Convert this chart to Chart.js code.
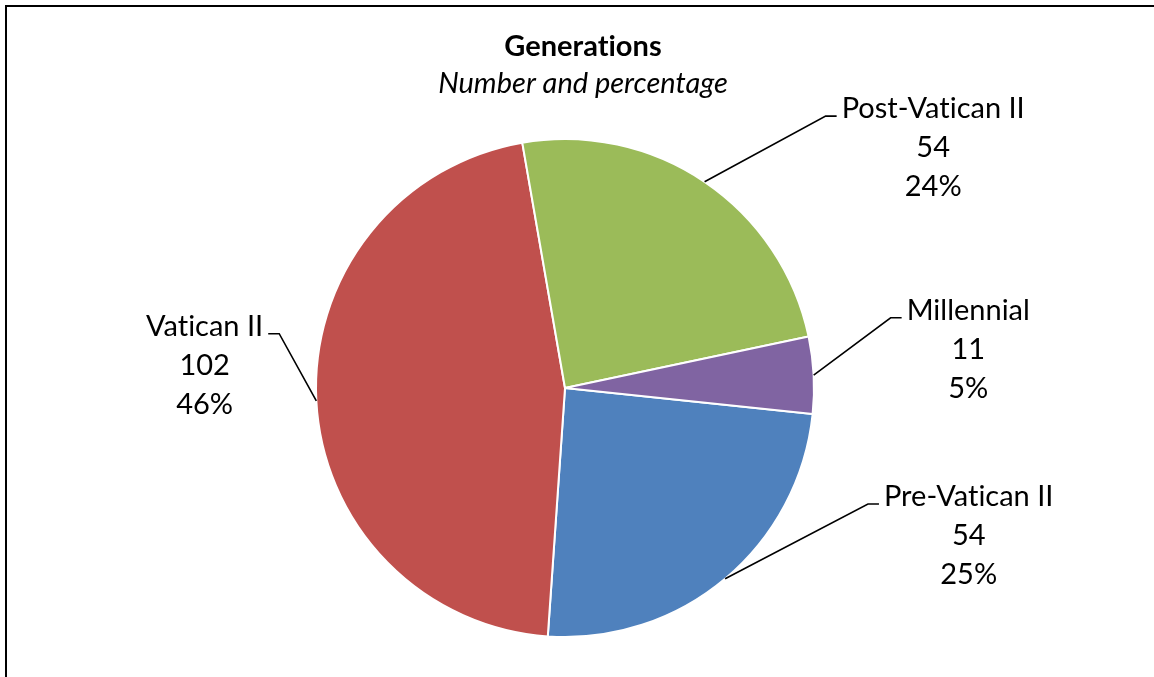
<!DOCTYPE html>
<html><head><meta charset="utf-8">
<script src="https://cdn.jsdelivr.net/npm/chart.js@4/dist/chart.umd.min.js"></script>
<style>
html,body{margin:0;padding:0;background:#fff;}
#wrap{position:relative;width:1154px;height:677px;overflow:hidden;}
#frame{position:absolute;left:5px;top:5px;width:1200px;height:720px;border-left:2px solid #000;border-top:2px solid #000;}
canvas{position:absolute;left:0;top:0;}
</style></head><body>
<div id="wrap"><div id="frame"></div><canvas id="c" width="1154" height="677"></canvas></div>
<script>
// ---- data ----
const categories = ['Pre-Vatican II', 'Vatican II', 'Post-Vatican II', 'Millennial'];
const counts = [54, 102, 54, 11];
const percentLabels = ['25%', '46%', '24%', '5%'];
const titleText = 'Generations';
const subtitleText = 'Number and percentage';

// ---- styles ----
const sliceColors = ['#4F81BD', '#C0504D', '#9BBB59', '#8064A2'];
const FONT = 'Lato, "Open Sans", sans-serif';
// label anchor (first-line baseline at the text edge facing the pie), in radii from the pie centre
const labelPlacement = [
  {dx: 1.281, dy: 0.474, side: 'left'},
  {dx: -1.212, dy: -0.210, side: 'right'},
  {dx: 1.111, dy: -1.084, side: 'left'},
  {dx: 1.372, dy: -0.274, side: 'left'}
];

const labelPlugin = {
  id: 'excelLabels',
  afterDatasetsDraw(chart) {
    const ctx = chart.ctx;
    const meta = chart.getDatasetMeta(0);
    ctx.save();
    try { ctx.textRendering = 'optimizeSpeed'; } catch (e) {}
    // titles
    ctx.fillStyle = '#000';
    ctx.textAlign = 'center';
    ctx.textBaseline = 'middle';
    ctx.font = 'bold 29px ' + FONT;
    ctx.fillText(titleText, chart.width / 2 + 6, 47);
    ctx.font = 'italic 29px ' + FONT;
    ctx.fillText(subtitleText, chart.width / 2 + 6, 84);

    ctx.font = '29px ' + FONT;
    ctx.textBaseline = 'alphabetic';
    ctx.strokeStyle = '#000';
    ctx.lineWidth = 1.6;
    meta.data.forEach((arc, i) => {
      const p = arc.getProps(['x', 'y', 'startAngle', 'endAngle', 'outerRadius'], true);
      const R = p.outerRadius;
      const mid = (p.startAngle + p.endAngle) / 2;
      const sx = p.x + Math.cos(mid) * R;
      const sy = p.y + Math.sin(mid) * R;
      const pl = labelPlacement[i];
      const ax = p.x + pl.dx * R;
      const ay = p.y + pl.dy * R;
      const lines = [categories[i], String(counts[i]), percentLabels[i]];
      const w = Math.max(...lines.map(t => ctx.measureText(t).width));
      const dir = pl.side === 'left' ? 1 : -1;
      const cx = ax + dir * w / 2;
      // leader
      ctx.beginPath();
      ctx.moveTo(sx, sy);
      ctx.lineTo(ax - dir * 16, ay - 2);
      ctx.lineTo(ax - dir * 5, ay - 2);
      ctx.stroke();
      ctx.textAlign = 'center';
      lines.forEach((t, k) => ctx.fillText(t, cx, ay + k * 39));
    });
    ctx.restore();
  }
};

new Chart(document.getElementById('c'), {
  type: 'pie',
  data: {
    labels: categories,
    datasets: [{
      data: counts,
      backgroundColor: sliceColors,
      borderColor: '#FFFFFF',
      borderWidth: 2,
      hoverOffset: 0
    }]
  },
  options: {
    responsive: false,
    animation: false,
    rotation: 96,
    layout: {padding: {top: 138, bottom: 39, left: 315, right: 339}},
    plugins: {
      legend: {display: false},
      tooltip: {enabled: false},
      title: {display: false}
    }
  },
  plugins: [labelPlugin]
});
</script>
</body></html>
